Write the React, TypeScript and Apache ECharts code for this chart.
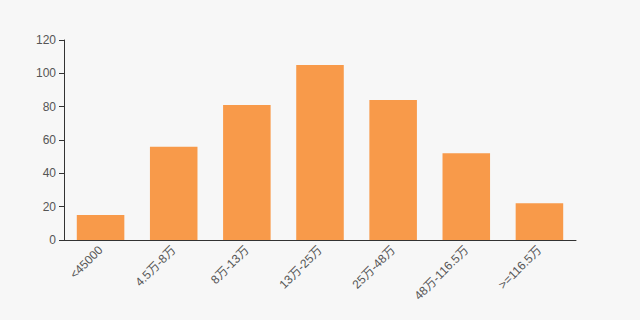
import React, { useEffect, useRef } from "react";
import * as echarts from "echarts";

const categories = ["<45000", "4.5万-8万", "8万-13万", "13万-25万", "25万-48万", "48万-116.5万", ">=116.5万"];
const values = [15, 56, 81, 105, 84, 52, 22];

export default function App() {
  const ref = useRef<HTMLDivElement>(null);
  useEffect(() => {
    const chart = echarts.init(ref.current!, null, { renderer: "svg" });
    const font = "'Liberation Sans', Arial, 'Noto Sans CJK SC', sans-serif";
    chart.setOption({
      animation: false,
      backgroundColor: "#f7f7f7",
      grid: { left: 64, right: 64, top: 40, bottom: 80 },
      xAxis: {
        type: "category",
        data: categories,
        axisLine: { lineStyle: { color: "#333" } },
        axisTick: { lineStyle: { color: "#333" } },
        axisLabel: { rotate: 45, color: "#555", fontSize: 12, interval: 0, fontFamily: font },
      },
      yAxis: {
        type: "value",
        min: 0,
        max: 120,
        interval: 20,
        splitLine: { show: false },
        axisLine: { show: true, lineStyle: { color: "#333" } },
        axisTick: { show: true, lineStyle: { color: "#333" } },
        axisLabel: { color: "#555", fontSize: 12, fontFamily: font },
      },
      series: [
        {
          type: "bar",
          data: values,
          barWidth: "65%",
          itemStyle: { color: "#f89a4a" },
        },
      ],
    });
    return () => chart.dispose();
  }, []);
  return <div ref={ref} style={{ width: 640, height: 320, position: "absolute", left: 0, top: 0 }} />;
}
